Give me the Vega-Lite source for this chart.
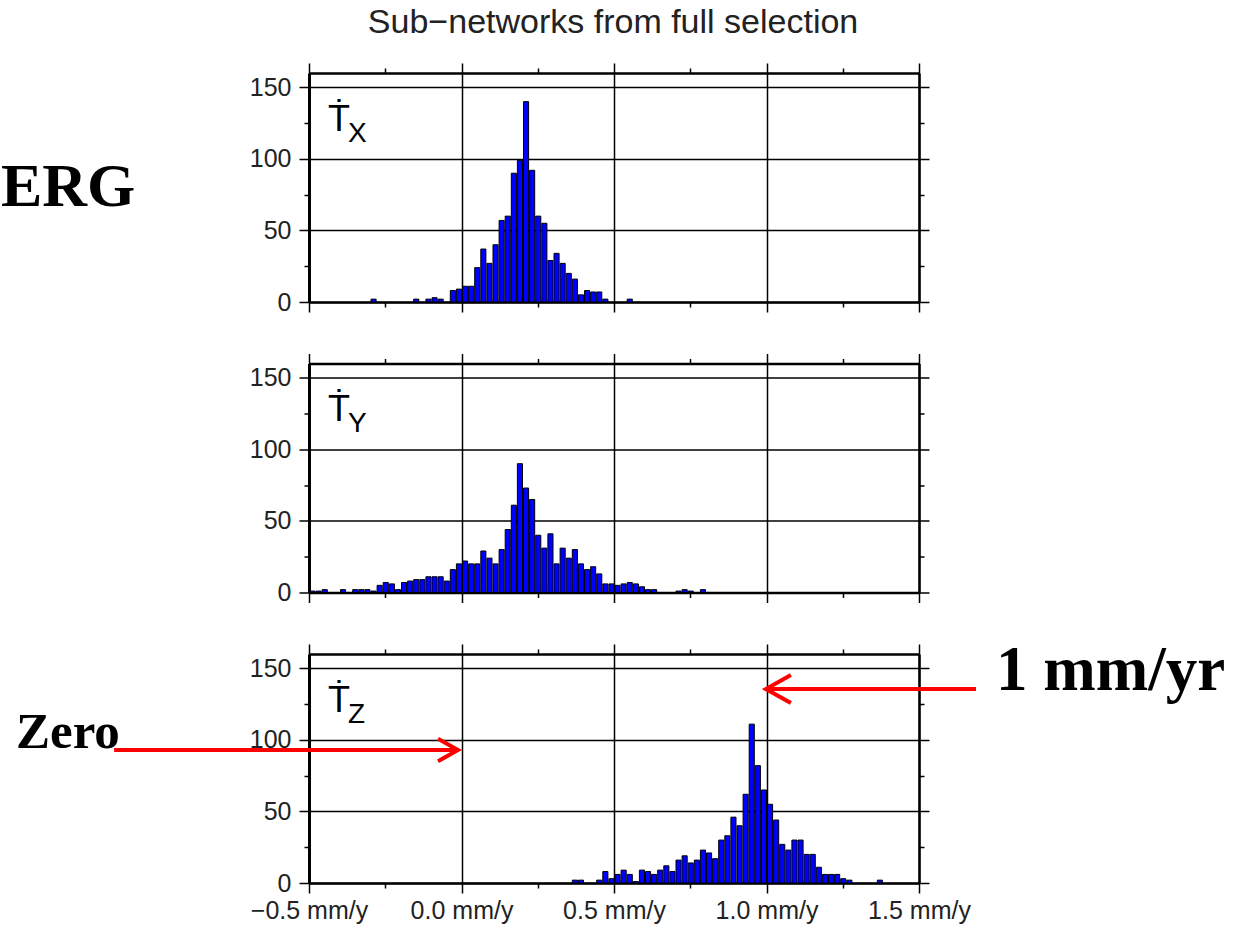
{
  "$schema": "https://vega.github.io/schema/vega-lite/v6.json",
  "padding": {"left": 0, "top": 6, "right": 5, "bottom": 5},
  "background": "white",
  "title": {"text": "Sub−networks from full selection", "anchor": "middle", "font": "Liberation Sans", "fontSize": 34, "fontWeight": "normal", "color": "#222", "offset": 22},
  "config": {
    "view": {"stroke": null},
    "axis": {"domainColor": "#000", "domainWidth": 2.5, "tickColor": "#000", "tickWidth": 1.5, "gridColor": "#000", "gridWidth": 1.5, "labelFont": "Liberation Sans", "labelFontSize": 25, "labelColor": "#222", "labelOverlap": false, "labelFlush": false}
  },
  "datasets": {
    "tx": [
      {"lo":-0.30,"hi":-0.28,"n":2},{"lo":-0.16,"hi":-0.14,"n":2},{"lo":-0.12,"hi":-0.10,"n":2},{"lo":-0.10,"hi":-0.08,"n":3},
      {"lo":-0.08,"hi":-0.06,"n":2},{"lo":-0.04,"hi":-0.02,"n":8},{"lo":-0.02,"hi":0.00,"n":9},{"lo":0.00,"hi":0.02,"n":11},
      {"lo":0.02,"hi":0.04,"n":11},{"lo":0.04,"hi":0.06,"n":24},{"lo":0.06,"hi":0.08,"n":37},{"lo":0.08,"hi":0.10,"n":27},
      {"lo":0.10,"hi":0.12,"n":40},{"lo":0.12,"hi":0.14,"n":57},{"lo":0.14,"hi":0.16,"n":60},{"lo":0.16,"hi":0.18,"n":90},
      {"lo":0.18,"hi":0.20,"n":99},{"lo":0.20,"hi":0.22,"n":140},{"lo":0.22,"hi":0.24,"n":92},{"lo":0.24,"hi":0.26,"n":60},
      {"lo":0.26,"hi":0.28,"n":55},{"lo":0.28,"hi":0.30,"n":29},{"lo":0.30,"hi":0.32,"n":34},{"lo":0.32,"hi":0.34,"n":27},
      {"lo":0.34,"hi":0.36,"n":20},{"lo":0.36,"hi":0.38,"n":16},{"lo":0.38,"hi":0.40,"n":5},{"lo":0.40,"hi":0.42,"n":8},
      {"lo":0.42,"hi":0.44,"n":7},{"lo":0.44,"hi":0.46,"n":7},{"lo":0.46,"hi":0.48,"n":2},{"lo":0.54,"hi":0.56,"n":2}
    ],
    "ty": [
      {"lo":-0.50,"hi":-0.48,"n":1},{"lo":-0.48,"hi":-0.46,"n":1},{"lo":-0.46,"hi":-0.44,"n":2},{"lo":-0.40,"hi":-0.38,"n":2},
      {"lo":-0.36,"hi":-0.34,"n":2},{"lo":-0.34,"hi":-0.32,"n":2},{"lo":-0.32,"hi":-0.30,"n":2},{"lo":-0.30,"hi":-0.28,"n":1},
      {"lo":-0.28,"hi":-0.26,"n":5},{"lo":-0.26,"hi":-0.24,"n":7},{"lo":-0.24,"hi":-0.22,"n":6},{"lo":-0.22,"hi":-0.20,"n":2},
      {"lo":-0.20,"hi":-0.18,"n":7},{"lo":-0.18,"hi":-0.16,"n":8},{"lo":-0.16,"hi":-0.14,"n":9},{"lo":-0.14,"hi":-0.12,"n":9},
      {"lo":-0.12,"hi":-0.10,"n":11},{"lo":-0.10,"hi":-0.08,"n":11},{"lo":-0.08,"hi":-0.06,"n":11},{"lo":-0.06,"hi":-0.04,"n":8},
      {"lo":-0.04,"hi":-0.02,"n":16},{"lo":-0.02,"hi":0.00,"n":20},{"lo":0.00,"hi":0.02,"n":22},{"lo":0.02,"hi":0.04,"n":20},
      {"lo":0.04,"hi":0.06,"n":20},{"lo":0.06,"hi":0.08,"n":29},{"lo":0.08,"hi":0.10,"n":24},{"lo":0.10,"hi":0.12,"n":20},
      {"lo":0.12,"hi":0.14,"n":30},{"lo":0.14,"hi":0.16,"n":44},{"lo":0.16,"hi":0.18,"n":61},{"lo":0.18,"hi":0.20,"n":90},
      {"lo":0.20,"hi":0.22,"n":73},{"lo":0.22,"hi":0.24,"n":65},{"lo":0.24,"hi":0.26,"n":40},{"lo":0.26,"hi":0.28,"n":31},
      {"lo":0.28,"hi":0.30,"n":41},{"lo":0.30,"hi":0.32,"n":20},{"lo":0.32,"hi":0.34,"n":31},{"lo":0.34,"hi":0.36,"n":24},
      {"lo":0.36,"hi":0.38,"n":30},{"lo":0.38,"hi":0.40,"n":20},{"lo":0.40,"hi":0.42,"n":16},{"lo":0.42,"hi":0.44,"n":18},
      {"lo":0.44,"hi":0.46,"n":13},{"lo":0.46,"hi":0.48,"n":6},{"lo":0.48,"hi":0.50,"n":6},{"lo":0.50,"hi":0.52,"n":5},
      {"lo":0.52,"hi":0.54,"n":6},{"lo":0.54,"hi":0.56,"n":7},{"lo":0.56,"hi":0.58,"n":6},{"lo":0.58,"hi":0.60,"n":4},
      {"lo":0.60,"hi":0.62,"n":2},{"lo":0.62,"hi":0.64,"n":2},{"lo":0.70,"hi":0.72,"n":1},{"lo":0.72,"hi":0.74,"n":2},
      {"lo":0.74,"hi":0.76,"n":1},{"lo":0.78,"hi":0.80,"n":2}
    ],
    "tz": [
      {"lo":0.36,"hi":0.38,"n":2},{"lo":0.38,"hi":0.40,"n":2},{"lo":0.44,"hi":0.46,"n":2},{"lo":0.46,"hi":0.48,"n":8},
      {"lo":0.48,"hi":0.50,"n":3},{"lo":0.50,"hi":0.52,"n":6},{"lo":0.52,"hi":0.54,"n":9},{"lo":0.54,"hi":0.56,"n":6},
      {"lo":0.56,"hi":0.58,"n":1},{"lo":0.58,"hi":0.60,"n":9},{"lo":0.60,"hi":0.62,"n":8},{"lo":0.62,"hi":0.64,"n":6},
      {"lo":0.64,"hi":0.66,"n":9},{"lo":0.66,"hi":0.68,"n":12},{"lo":0.68,"hi":0.70,"n":8},{"lo":0.70,"hi":0.72,"n":16},
      {"lo":0.72,"hi":0.74,"n":19},{"lo":0.74,"hi":0.76,"n":14},{"lo":0.76,"hi":0.78,"n":16},{"lo":0.78,"hi":0.80,"n":23},
      {"lo":0.80,"hi":0.82,"n":21},{"lo":0.82,"hi":0.84,"n":17},{"lo":0.84,"hi":0.86,"n":30},{"lo":0.86,"hi":0.88,"n":33},
      {"lo":0.88,"hi":0.90,"n":46},{"lo":0.90,"hi":0.92,"n":40},{"lo":0.92,"hi":0.94,"n":62},{"lo":0.94,"hi":0.96,"n":111},
      {"lo":0.96,"hi":0.98,"n":82},{"lo":0.98,"hi":1.00,"n":65},{"lo":1.00,"hi":1.02,"n":55},{"lo":1.02,"hi":1.04,"n":44},
      {"lo":1.04,"hi":1.06,"n":27},{"lo":1.06,"hi":1.08,"n":23},{"lo":1.08,"hi":1.10,"n":30},{"lo":1.10,"hi":1.12,"n":30},
      {"lo":1.12,"hi":1.14,"n":20},{"lo":1.14,"hi":1.16,"n":20},{"lo":1.16,"hi":1.18,"n":11},{"lo":1.18,"hi":1.20,"n":6},
      {"lo":1.20,"hi":1.22,"n":6},{"lo":1.22,"hi":1.24,"n":6},{"lo":1.24,"hi":1.26,"n":3},{"lo":1.26,"hi":1.28,"n":2},
      {"lo":1.36,"hi":1.38,"n":2}
    ]
  },
  "bounds": "flush",
  "spacing": 61.5,
  "vconcat": [
    {
      "width": 610, "height": 229,
      "resolve": {"axis": {"x": "independent", "y": "independent"}},
      "layer": [
        {
          "data": {"name": "tx"},
          "mark": {"type": "bar", "fill": "#0000FF", "stroke": "#000", "strokeWidth": 1},
          "encoding": {
            "x": {"field": "lo", "type": "quantitative", "bin": {"binned": true, "step": 0.02}, "scale": {"domain": [-0.5, 1.5], "nice": false, "zero": false},
              "axis": {"orient": "bottom", "title": null, "values": [-0.5,-0.25,0,0.25,0.5,0.75,1,1.25,1.5], "labels": false, "grid": true,
                "gridOpacity": {"condition": {"test": "abs(round(datum.value*4)) % 2 == 1", "value": 0}, "value": 1},
                "tickSize": {"condition": {"test": "abs(round(datum.value*4)) % 2 == 1", "value": 5}, "value": 10}}},
            "x2": {"field": "hi"},
            "y": {"field": "n", "type": "quantitative", "scale": {"domain": [0, 160], "nice": false},
              "axis": {"orient": "left", "title": null, "values": [0,25,50,75,100,125,150], "grid": true, "labelPadding": 8, "domainWidth": 3,
                "labelExpr": "datum.value % 50 == 0 ? datum.label : ''",
                "gridOpacity": {"condition": {"test": "datum.value % 50 != 0", "value": 0}, "value": 1},
                "tickSize": {"condition": {"test": "datum.value % 50 != 0", "value": 5}, "value": 10}}}
          }
        },
        {
          "data": {"values": [{"t": "Ṫ"}]},
          "mark": {"type": "text", "font": "Liberation Sans", "fontSize": 36, "align": "left", "baseline": "alphabetic", "color": "#000"},
          "encoding": {
            "text": {"field": "t"},
            "x": {"datum": -0.4377, "type": "quantitative",
              "axis": {"orient": "top", "title": null, "values": [-0.5,-0.25,0,0.25,0.5,0.75,1,1.25,1.5], "labels": false, "grid": false,
                "tickSize": {"condition": {"test": "abs(round(datum.value*4)) % 2 == 1", "value": 5}, "value": 10}}},
            "y": {"datum": 119.5, "type": "quantitative",
              "axis": {"orient": "right", "title": null, "values": [0,25,50,75,100,125,150], "labels": false, "grid": false,
                "tickSize": {"condition": {"test": "datum.value % 50 != 0", "value": 5}, "value": 10}}}
          }
        },
        {
          "data": {"values": [{"t": "X"}]},
          "mark": {"type": "text", "font": "Liberation Sans", "fontSize": 28, "align": "left", "baseline": "alphabetic", "color": "#000"},
          "encoding": {
            "text": {"field": "t"},
            "x": {"datum": -0.372, "type": "quantitative", "axis": null},
            "y": {"datum": 111.8, "type": "quantitative", "axis": null}
          }
        },
        {
          "data": {"values": [{"t": "ERG"}]},
          "mark": {"type": "text", "font": "Liberation Serif", "fontWeight": "bold", "fontSize": 62, "align": "left", "baseline": "alphabetic", "color": "#000"},
          "encoding": {
            "text": {"field": "t"},
            "x": {"datum": -1.51, "type": "quantitative", "axis": null},
            "y": {"datum": 67, "type": "quantitative", "axis": null}
          }
        }
      ]
    },
    {
      "width": 610, "height": 229,
      "resolve": {"axis": {"x": "independent", "y": "independent"}},
      "layer": [
        {
          "data": {"name": "ty"},
          "mark": {"type": "bar", "fill": "#0000FF", "stroke": "#000", "strokeWidth": 1},
          "encoding": {
            "x": {"field": "lo", "type": "quantitative", "bin": {"binned": true, "step": 0.02}, "scale": {"domain": [-0.5, 1.5], "nice": false, "zero": false},
              "axis": {"orient": "bottom", "title": null, "values": [-0.5,-0.25,0,0.25,0.5,0.75,1,1.25,1.5], "labels": false, "grid": true,
                "gridOpacity": {"condition": {"test": "abs(round(datum.value*4)) % 2 == 1", "value": 0}, "value": 1},
                "tickSize": {"condition": {"test": "abs(round(datum.value*4)) % 2 == 1", "value": 5}, "value": 10}}},
            "x2": {"field": "hi"},
            "y": {"field": "n", "type": "quantitative", "scale": {"domain": [0, 160], "nice": false},
              "axis": {"orient": "left", "title": null, "values": [0,25,50,75,100,125,150], "grid": true, "labelPadding": 8, "domainWidth": 3,
                "labelExpr": "datum.value % 50 == 0 ? datum.label : ''",
                "gridOpacity": {"condition": {"test": "datum.value % 50 != 0", "value": 0}, "value": 1},
                "tickSize": {"condition": {"test": "datum.value % 50 != 0", "value": 5}, "value": 10}}}
          }
        },
        {
          "data": {"values": [{"t": "Ṫ"}]},
          "mark": {"type": "text", "font": "Liberation Sans", "fontSize": 36, "align": "left", "baseline": "alphabetic", "color": "#000"},
          "encoding": {
            "text": {"field": "t"},
            "x": {"datum": -0.4377, "type": "quantitative",
              "axis": {"orient": "top", "title": null, "values": [-0.5,-0.25,0,0.25,0.5,0.75,1,1.25,1.5], "labels": false, "grid": false,
                "tickSize": {"condition": {"test": "abs(round(datum.value*4)) % 2 == 1", "value": 5}, "value": 10}}},
            "y": {"datum": 119.5, "type": "quantitative",
              "axis": {"orient": "right", "title": null, "values": [0,25,50,75,100,125,150], "labels": false, "grid": false,
                "tickSize": {"condition": {"test": "datum.value % 50 != 0", "value": 5}, "value": 10}}}
          }
        },
        {
          "data": {"values": [{"t": "Y"}]},
          "mark": {"type": "text", "font": "Liberation Sans", "fontSize": 28, "align": "left", "baseline": "alphabetic", "color": "#000"},
          "encoding": {
            "text": {"field": "t"},
            "x": {"datum": -0.372, "type": "quantitative", "axis": null},
            "y": {"datum": 111.8, "type": "quantitative", "axis": null}
          }
        }
      ]
    },
    {
      "width": 610, "height": 229,
      "resolve": {"axis": {"x": "independent", "y": "independent"}},
      "layer": [
        {
          "data": {"name": "tz"},
          "mark": {"type": "bar", "fill": "#0000FF", "stroke": "#000", "strokeWidth": 1},
          "encoding": {
            "x": {"field": "lo", "type": "quantitative", "bin": {"binned": true, "step": 0.02}, "scale": {"domain": [-0.5, 1.5], "nice": false, "zero": false},
              "axis": {"orient": "bottom", "title": null, "values": [-0.5,-0.25,0,0.25,0.5,0.75,1,1.25,1.5], "grid": true, "labelPadding": 5,
                "labelExpr": "abs(round(datum.value*4)) % 2 == 1 ? '' : (datum.value < 0 ? '−' : '') + format(abs(datum.value), '.1f') + ' mm/y'",
                "gridOpacity": {"condition": {"test": "abs(round(datum.value*4)) % 2 == 1", "value": 0}, "value": 1},
                "tickSize": {"condition": {"test": "abs(round(datum.value*4)) % 2 == 1", "value": 5}, "value": 10}}},
            "x2": {"field": "hi"},
            "y": {"field": "n", "type": "quantitative", "scale": {"domain": [0, 160], "nice": false},
              "axis": {"orient": "left", "title": null, "values": [0,25,50,75,100,125,150], "grid": true, "labelPadding": 8, "domainWidth": 3,
                "labelExpr": "datum.value % 50 == 0 ? datum.label : ''",
                "gridOpacity": {"condition": {"test": "datum.value % 50 != 0", "value": 0}, "value": 1},
                "tickSize": {"condition": {"test": "datum.value % 50 != 0", "value": 5}, "value": 10}}}
          }
        },
        {
          "data": {"values": [{"t": "Ṫ"}]},
          "mark": {"type": "text", "font": "Liberation Sans", "fontSize": 36, "align": "left", "baseline": "alphabetic", "color": "#000"},
          "encoding": {
            "text": {"field": "t"},
            "x": {"datum": -0.4377, "type": "quantitative",
              "axis": {"orient": "top", "title": null, "values": [-0.5,-0.25,0,0.25,0.5,0.75,1,1.25,1.5], "labels": false, "grid": false,
                "tickSize": {"condition": {"test": "abs(round(datum.value*4)) % 2 == 1", "value": 5}, "value": 10}}},
            "y": {"datum": 119.5, "type": "quantitative",
              "axis": {"orient": "right", "title": null, "values": [0,25,50,75,100,125,150], "labels": false, "grid": false,
                "tickSize": {"condition": {"test": "datum.value % 50 != 0", "value": 5}, "value": 10}}}
          }
        },
        {
          "data": {"values": [{"t": "Z"}]},
          "mark": {"type": "text", "font": "Liberation Sans", "fontSize": 28, "align": "left", "baseline": "alphabetic", "color": "#000"},
          "encoding": {
            "text": {"field": "t"},
            "x": {"datum": -0.372, "type": "quantitative", "axis": null},
            "y": {"datum": 111.8, "type": "quantitative", "axis": null}
          }
        },
        {
          "data": {"values": [{"t": "Zero"}]},
          "mark": {"type": "text", "font": "Liberation Serif", "fontWeight": "bold", "fontSize": 51, "align": "left", "baseline": "alphabetic", "color": "#000"},
          "encoding": {
            "text": {"field": "t"},
            "x": {"datum": -1.4607, "type": "quantitative", "axis": null},
            "y": {"datum": 94.5, "type": "quantitative", "axis": null}
          }
        },
        {
          "data": {"values": [{"t": "1 mm/yr"}]},
          "mark": {"type": "text", "font": "Liberation Serif", "fontWeight": "bold", "fontSize": 63, "align": "left", "baseline": "alphabetic", "color": "#000"},
          "encoding": {
            "text": {"field": "t"},
            "x": {"datum": 1.7525, "type": "quantitative", "axis": null},
            "y": {"datum": 134.8, "type": "quantitative", "axis": null}
          }
        },
        {
          "data": {"values": [{"t": "zero arrow"}]},
          "mark": {"type": "rule", "color": "#FF0000", "strokeWidth": 4},
          "encoding": {
            "x": {"datum": -1.139, "type": "quantitative", "axis": null},
            "x2": {"datum": -0.016},
            "y": {"datum": 92.9, "type": "quantitative", "axis": null}
          }
        },
        {
          "data": {"values": [{"t": "zero arrow head"}]},
          "mark": {"type": "point", "shape": "M -1 -0.56 L 0 0 L -1 0.56", "filled": false, "stroke": "#FF0000", "strokeWidth": 4, "size": 1600, "opacity": 1},
          "encoding": {
            "x": {"datum": -0.0115, "type": "quantitative", "axis": null},
            "y": {"datum": 92.9, "type": "quantitative", "axis": null}
          }
        },
        {
          "data": {"values": [{"t": "1 mm/yr arrow"}]},
          "mark": {"type": "rule", "color": "#FF0000", "strokeWidth": 4},
          "encoding": {
            "x": {"datum": 1.687, "type": "quantitative", "axis": null},
            "x2": {"datum": 1.003},
            "y": {"datum": 135.5, "type": "quantitative", "axis": null}
          }
        },
        {
          "data": {"values": [{"t": "1 mm/yr arrow head"}]},
          "mark": {"type": "point", "shape": "M 1 -0.56 L 0 0 L 1 0.56", "filled": false, "stroke": "#FF0000", "strokeWidth": 4, "size": 2500, "opacity": 1},
          "encoding": {
            "x": {"datum": 0.998, "type": "quantitative", "axis": null},
            "y": {"datum": 135.5, "type": "quantitative", "axis": null}
          }
        }
      ]
    }
  ]
}
